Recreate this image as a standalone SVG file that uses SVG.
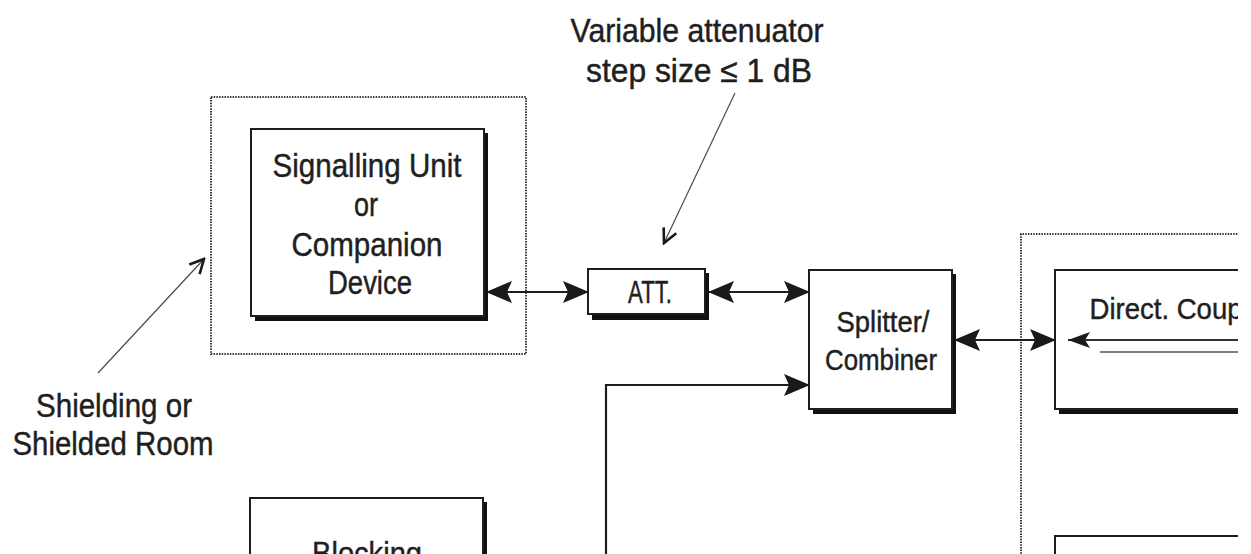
<svg xmlns="http://www.w3.org/2000/svg" width="1251" height="554" viewBox="0 0 1251 554">
  <style>
    .box { fill: #ffffff; stroke: #1e1e1e; stroke-width: 2; }
    .shadow { fill: #111111; }
    .dotted { fill: none; stroke: #3a3a3a; stroke-width: 2; stroke-dasharray: 1.5 1.2; }
    .t { font-family: "Liberation Sans Narrow", "Liberation Sans", Arial, sans-serif; fill: #1f1f1f; stroke: #1f1f1f; stroke-width: 0.45; text-anchor: middle; }
    .conn { fill: none; stroke: #1e1e1e; stroke-width: 2.2; }
    .leader { fill: none; stroke: #4a4a4a; stroke-width: 1.2; }
  </style>
  <defs>
    <marker id="ah" markerUnits="userSpaceOnUse" viewBox="0 0 26 22" markerWidth="26" markerHeight="22" refX="25" refY="11" orient="auto-start-reverse">
      <path d="M0,0 L26,11 L0,22 L5,11 z" fill="#1a1a1a"/>
    </marker>
    <marker id="ahs" markerUnits="userSpaceOnUse" viewBox="0 0 22 16" markerWidth="22" markerHeight="16" refX="22" refY="8" orient="auto">
      <path d="M0,0 L22,8 L0,16 L5,8 z" fill="#1a1a1a"/>
    </marker>
    <marker id="open" markerUnits="userSpaceOnUse" viewBox="0 0 18 18" markerWidth="18" markerHeight="18" refX="16" refY="9" orient="auto">
      <path d="M2,2 L16,9 L2,16" fill="none" stroke="#1a1a1a" stroke-width="2.6" stroke-linejoin="miter"/>
    </marker>
    <clipPath id="frame"><rect x="0" y="0" width="1238" height="554"/></clipPath>
  </defs>
  <rect x="0" y="0" width="1251" height="554" fill="#ffffff"/>
  <g clip-path="url(#frame)">
    <g id="shield-left">
      <rect class="dotted" x="211" y="97" width="315" height="257"/>
    </g>
    <g id="shield-right">
      <path class="dotted" d="M1240,234 H1021 V556"/>
    </g>
    <g id="signalling-unit">
      <rect class="shadow" x="255" y="133" width="233" height="188"/>
      <rect class="box" x="251" y="129" width="233" height="187"/>
      <text class="t" x="367" y="177" font-size="33" textLength="189" lengthAdjust="spacingAndGlyphs">Signalling Unit</text>
      <text class="t" x="366" y="216" font-size="33" textLength="24" lengthAdjust="spacingAndGlyphs">or</text>
      <text class="t" x="367" y="256" font-size="33" textLength="151" lengthAdjust="spacingAndGlyphs">Companion</text>
      <text class="t" x="370" y="294" font-size="33" textLength="84" lengthAdjust="spacingAndGlyphs">Device</text>
    </g>
    <g id="att">
      <rect class="shadow" x="592" y="273" width="117" height="47"/>
      <rect class="box" x="588" y="269" width="117" height="45"/>
      <text class="t" x="650" y="303" font-size="31" textLength="44" lengthAdjust="spacingAndGlyphs">ATT.</text>
    </g>
    <g id="splitter">
      <rect class="shadow" x="813" y="274" width="143" height="140"/>
      <rect class="box" x="809" y="270" width="143" height="139"/>
      <text class="t" x="883" y="332" font-size="30" textLength="93" lengthAdjust="spacingAndGlyphs">Splitter/</text>
      <text class="t" x="881" y="370" font-size="30" textLength="112" lengthAdjust="spacingAndGlyphs">Combiner</text>
    </g>
    <g id="direct-coupler">
      <rect class="shadow" x="1059" y="274" width="220" height="140"/>
      <rect class="box" x="1055" y="270" width="220" height="139"/>
      <text class="t" x="1166" y="319" font-size="29" textLength="153" lengthAdjust="spacingAndGlyphs">Direct. Coup</text>
      <line x1="1240" y1="340" x2="1068" y2="340" stroke="#333" stroke-width="2.2" marker-end="url(#ahs)"/>
      <line x1="1100" y1="352" x2="1240" y2="352" stroke="#555" stroke-width="1.5"/>
    </g>
    <g id="lower-right-box">
      <rect class="box" x="1055" y="536" width="220" height="60"/>
    </g>
    <g id="blocking">
      <rect class="shadow" x="254" y="502" width="233" height="80"/>
      <rect class="box" x="250" y="498" width="233" height="80"/>
      <text class="t" x="367" y="564" font-size="32" textLength="110" lengthAdjust="spacingAndGlyphs">Blocking</text>
    </g>
    <g id="label-attenuator">
      <text class="t" x="697" y="42" font-size="33" textLength="253" lengthAdjust="spacingAndGlyphs">Variable attenuator</text>
      <text class="t" x="699" y="82" font-size="33" textLength="226" lengthAdjust="spacingAndGlyphs">step size ≤ 1 dB</text>
    </g>
    <g id="label-shielding">
      <text class="t" x="114" y="417" font-size="33" textLength="156" lengthAdjust="spacingAndGlyphs">Shielding or</text>
      <text class="t" x="113" y="455" font-size="33" textLength="201" lengthAdjust="spacingAndGlyphs">Shielded Room</text>
    </g>
    <g id="connectors">
      <line class="conn" x1="487" y1="292" x2="588" y2="292" marker-start="url(#ah)" marker-end="url(#ah)"/>
      <line class="conn" x1="709" y1="292" x2="809" y2="292" marker-start="url(#ah)" marker-end="url(#ah)"/>
      <path class="conn" d="M606,556 V385 H809" marker-end="url(#ah)"/>
      <line class="conn" x1="955" y1="340" x2="1055" y2="340" marker-start="url(#ah)" marker-end="url(#ah)"/>
      <line class="leader" x1="735" y1="93" x2="664" y2="243" marker-end="url(#open)"/>
      <line class="leader" x1="98" y1="373" x2="204" y2="259" marker-end="url(#open)"/>
    </g>
  </g>
</svg>
